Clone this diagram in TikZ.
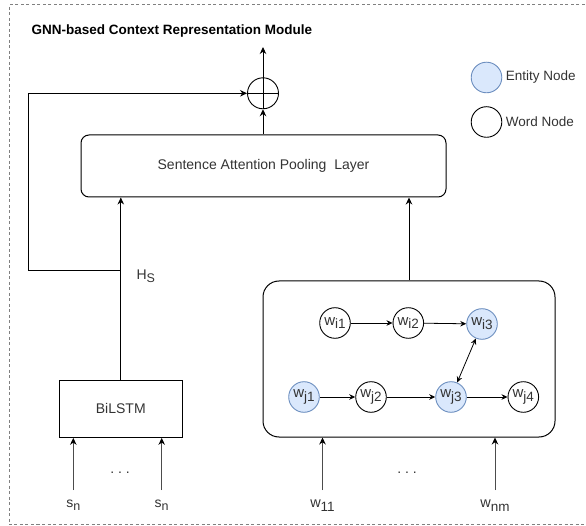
\documentclass[tikz,border=0pt]{standalone}
\usepackage{fontspec}
\setmainfont{Liberation Sans}
\usetikzlibrary{arrows.meta}
\definecolor{entfill}{HTML}{DAE8FC}
\definecolor{entline}{HTML}{6C8EBF}
\definecolor{txt}{HTML}{333333}
\newcommand\mysub[1]{\raisebox{-3.5pt}{\fontsize{12.5}{12.5}\selectfont #1}}
\newcommand\gsub[1]{\raisebox{-3.8pt}{\fontsize{13.5}{13.5}\selectfont #1}}
\begin{document}
\begin{tikzpicture}[x=1pt,y=-1pt,
  font=\fontsize{14}{16}\selectfont, text=txt,
  arr/.style={line width=0.9pt,-{Stealth[length=7pt,width=6.5pt]}},
  inarr/.style={line width=0.9pt,draw=black!70,-{Stealth[length=7pt,width=6.5pt,fill=black,color=black]}},
  garr/.style={line width=0.8pt,-{Stealth[length=6pt,width=5.5pt]}},
  box/.style={draw, line width=1pt, inner sep=0},
  gnode/.style={circle, draw, line width=0.9pt, minimum size=30.6pt, inner sep=0, font=\fontsize{15}{16}\selectfont},
  ent/.style={gnode, fill=entfill, draw=entline},
  frame/.style={draw=gray, line width=0.8pt, dash pattern=on 3pt off 2.5pt}]
\useasboundingbox (0,0) rectangle (586,526);
% frame
\draw[frame] (590,4.5) -- (9.5,4.5) -- (9.5,524.5) -- (590,524.5);
\node[anchor=west, font=\bfseries\fontsize{13.5}{15}\selectfont, text=black] (title) at (28,31.5) {GNN-based Context Representation Module};
% plus
\node[draw, circle, line width=0.9pt, minimum size=31pt, inner sep=0] (plus) at (263,93.3) {};
\draw[line width=0.9pt] (plus.north) -- (plus.south) (plus.west) -- (plus.east);
\coordinate (out) at (263,47);
\draw[arr] (plus.north) -- (out);
% attention layer
\node[box, rounded corners=8pt, minimum width=365pt, minimum height=62pt] (att) at (263.5,166) {Sentence Attention Pooling\ \ Layer};
\draw[arr] (att.north -| plus) -- (plus.south);
% BiLSTM
\node[box, minimum width=123pt, minimum height=57.3pt] (bil) at (120.8,408.7) {BiLSTM};
\draw[arr] (bil.north) -- (bil.north |- att.south);
\coordinate (fb) at (120.8,270);
\coordinate (fbl) at (28,270);
\draw[line width=0.9pt] (fb) -- (fbl);
\draw[arr] (fbl) |- (plus.west);
\node[anchor=west] (hs) at (133,276) {H\mysub{S}};
% left inputs
\node (s1) at (73.3,505) {s\mysub{n}};
\node (s2) at (161.7,505) {s\mysub{n}};
\coordinate (s1b) at (73.3,490);
\coordinate (s2b) at (161.7,490);
\draw[inarr] (s1b) -- (s1b |- bil.south);
\draw[inarr] (s2b) -- (s2b |- bil.south);
\node (dl) at (120,473) {.\ .\ .};
% GNN box
\node[box, rounded corners=16pt, minimum width=292pt, minimum height=156pt] (gnn) at (409,359) {};
\draw[arr] (gnn.north) -- (gnn.north |- att.south);
% graph nodes
\node[gnode] (i1) at (335,323) {w\gsub{i1}};
\node[gnode] (i2) at (408.3,323) {w\gsub{i2}};
\node[ent]   (i3) at (482,324) {w\gsub{i3}};
\node[ent]   (j1) at (304,397) {w\gsub{j1}};
\node[gnode] (j2) at (371,397) {w\gsub{j2}};
\node[ent]   (j3) at (451,397) {w\gsub{j3}};
\node[gnode] (j4) at (523.3,397) {w\gsub{j4}};
\draw[garr] (i1) -- (i2);
\draw[garr] (i2) -- (i3);
\draw[garr] (j1) -- (j2);
\draw[garr] (j2) -- (j3);
\draw[garr] (j3) -- (j4);
\draw[garr, {Stealth[length=6pt,width=5.5pt]}-{Stealth[length=6pt,width=5.5pt]}] (j3) -- (i3);
% right inputs
\node[font=\fontsize{14.5}{16}\selectfont] (w1) at (322.5,506) {w\gsub{11}};
\node[font=\fontsize{14.5}{16}\selectfont] (w2) at (495,506) {w\gsub{nm}};
\coordinate (w1b) at (322.5,490);
\coordinate (w2b) at (495,490);
\draw[inarr] (w1b) -- (w1b |- gnn.south);
\draw[inarr] (w2b) -- (w2b |- gnn.south);
\node (dr) at (407,473) {.\ .\ .};
% legend
\node[ent] (le) at (486.5,77.5) {};
\node[anchor=west, font=\fontsize{13.5}{15}\selectfont] (let) at (le.east) {Entity Node};
\node[gnode] (lw) at (486.5,122) {};
\node[anchor=west, font=\fontsize{13.5}{15}\selectfont] (lwt) at (lw.east) {Word Node};
\end{tikzpicture}
\end{document}
